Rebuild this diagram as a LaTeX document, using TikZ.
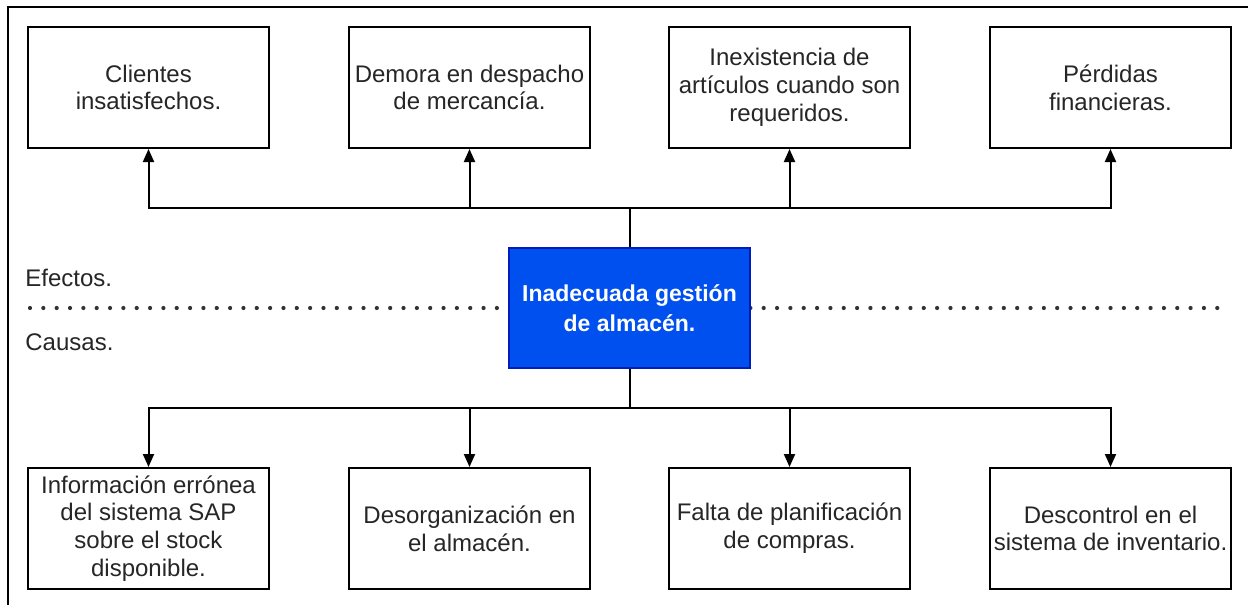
\documentclass[tikz,border=0pt]{standalone}
\usepackage{fontspec}
\setmainfont{Liberation Sans}
\usetikzlibrary{arrows.meta}
\definecolor{txt}{HTML}{262626}
\definecolor{mainblue}{HTML}{0050EF}
\definecolor{mainstroke}{HTML}{001DBC}
\definecolor{dotc}{HTML}{333333}
\begin{document}
\begin{tikzpicture}[x=0.5pt,y=-0.5pt,
  box/.style={draw=black,line width=1pt,fill=white,minimum width=120.5pt,minimum height=60.5pt,inner sep=0pt,align=center,font=\fontsize{12}{13.9}\selectfont,text=txt},
  mainbox/.style={box,fill=mainblue,draw=mainstroke,text=white,minimum height=60pt,font=\bfseries\fontsize{11.5}{15}\selectfont},
  conn/.style={line width=1pt,draw=black},
  arr/.style={conn,-{Triangle[length=6.5pt,width=5.5pt]}},
  lbl/.style={font=\fontsize{12}{13.9}\selectfont,text=txt,anchor=west,inner sep=0pt}]
\useasboundingbox (0,0) rectangle (1248,605);
\fill[white] (0,0) rectangle (1248,605);
\draw[line width=1.1pt] (8,605) -- (8,7) -- (1248,7);
% dotted separator
\draw[dotc,line width=2.1pt,line cap=round,dash pattern=on 0pt off 6.67pt] (30,308) -- (1226,308);
\node[lbl] (efe) at (25,278) {Efectos.};
\node[lbl] (cau) at (25,342) {Causas.};
% main node
\node[mainbox] (main) at (629.5,308) {Inadecuada gestión\\de almacén.};
% effects
\node[box] (e1) at (148.5,87.5) {Clientes\\insatisfechos.};
\node[box] (e2) at (469.5,87.5) {Demora en despacho\\de mercancía.};
\node[box] (e3) at (789.5,87.5) {Inexistencia de\\artículos cuando son\\requeridos.};
\node[box] (e4) at (1110.5,87.5) {Pérdidas\\financieras.};
% causes
\node[box] (c1) at (148.5,528.5) {Información errónea\\del sistema SAP\\sobre el stock\\disponible.};
\node[box] (c2) at (469.5,528.5) {Desorganización en\\el almacén.};
\node[box] (c3) at (789.5,528.5) {Falta de planificación\\de compras.};
\node[box] (c4) at (1110.5,528.5) {Descontrol en el\\sistema de inventario.};
% connectors
\coordinate (tj) at (629.5,208);
\coordinate (bj) at (629.5,408);
\draw[conn] (main.north) -- (tj);
\draw[conn] (main.south) -- (bj);
\foreach \n in {e1,e2,e3,e4} {\draw[arr] (tj) -| (\n.south);}
\foreach \n in {c1,c2,c3,c4} {\draw[arr] (bj) -| (\n.north);}
\end{tikzpicture}
\end{document}
